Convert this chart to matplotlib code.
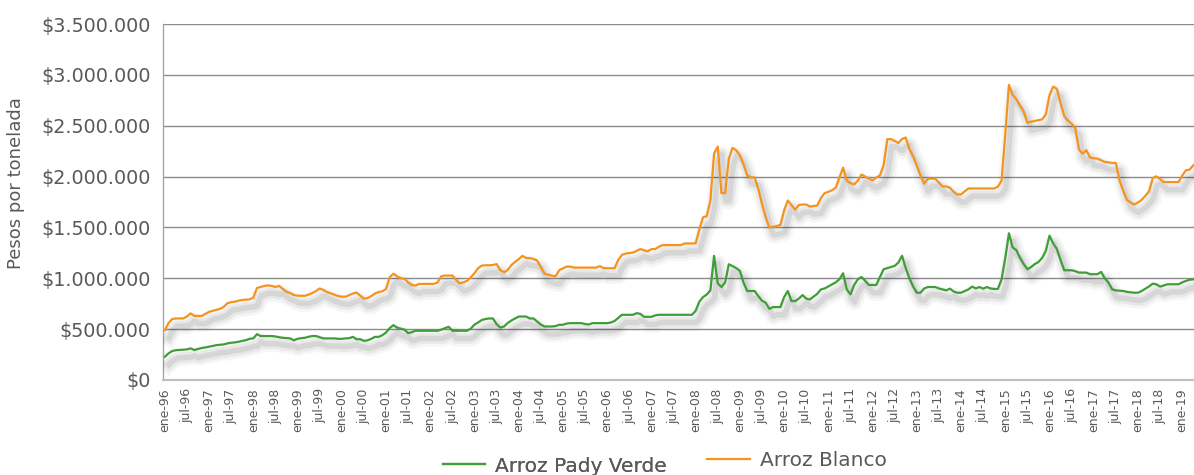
import numpy as np
import matplotlib
matplotlib.use("Agg")
import matplotlib.pyplot as plt
from matplotlib.ticker import FuncFormatter, MultipleLocator
import matplotlib.patheffects as pe
from matplotlib.lines import Line2D

# ---- data (miles de pesos por tonelada), monthly from ene-96 ----
start_year = 1996
blanco = [
    490, 560, 600, 605, 605, 605, 625, 655, 630, 630, 630, 650,          # 1996
    670, 680, 690, 700, 720, 755, 765, 770, 780, 787, 790, 793,          # 1997
    810, 905, 915, 925, 930, 925, 915, 925, 895, 868, 855, 835,          # 1998
    829, 828, 828, 840, 855, 875, 900, 885, 865, 852, 840, 825,          # 1999
    819, 819, 835, 850, 860, 830, 800, 805, 825, 850, 865, 872,          # 2000
    895, 1010, 1045, 1020, 1000, 995, 960, 935, 928, 945, 945, 945,      # 2001
    945, 945, 960, 1020, 1027, 1027, 1027, 985, 950, 960, 975, 1010,     # 2002
    1050, 1100, 1125, 1128, 1128, 1130, 1140, 1080, 1060, 1080, 1130, 1160,  # 2003
    1188, 1220, 1200, 1198, 1190, 1175, 1110, 1045, 1035, 1025, 1020, 1080,  # 2004
    1098, 1115, 1115, 1105, 1105, 1105, 1105, 1105, 1105, 1105, 1120, 1100,  # 2005
    1099, 1099, 1099, 1180, 1230, 1243, 1248, 1253, 1270, 1287, 1275, 1265,  # 2006
    1287, 1287, 1310, 1326, 1326, 1326, 1326, 1326, 1326, 1342, 1342, 1342,  # 2007
    1343, 1480, 1600, 1610, 1765, 2226, 2295, 1837, 1837, 2177, 2282, 2259,  # 2008
    2210, 2120, 2010, 1992, 1990, 1880, 1730, 1600, 1501, 1505, 1515, 1524,  # 2009
    1666, 1765, 1720, 1675, 1720, 1725, 1725, 1705, 1710, 1715, 1790, 1838,  # 2010
    1850, 1865, 1890, 1990, 2088, 1960, 1935, 1923, 1960, 2020, 2000, 1979,  # 2011
    1962, 1990, 2012, 2111, 2368, 2368, 2350, 2330, 2370, 2384, 2270, 2200,  # 2012
    2110, 2012, 1930, 1979, 1979, 1979, 1940, 1903, 1903, 1890, 1850, 1824,  # 2013
    1824, 1855, 1883, 1883, 1883, 1883, 1883, 1883, 1883, 1883, 1900, 1960,  # 2014
    2420, 2902, 2803, 2760, 2700, 2638, 2529, 2540, 2546, 2555, 2562, 2612,  # 2015
    2800, 2885, 2862, 2721, 2595, 2550, 2520, 2473, 2266, 2226, 2259, 2187,  # 2016
    2180, 2177, 2160, 2144, 2140, 2134, 2134, 1962, 1860, 1771, 1745, 1725,  # 2017
    1745, 1771, 1810, 1854, 1985, 2002, 1975, 1946, 1946, 1946, 1946, 1946,  # 2018
    2010, 2061, 2068, 2111,                                                  # 2019
]
pady_verde = [
    229, 262, 285, 293, 295, 298, 301, 311, 295, 305, 315, 320,          # 1996
    327, 335, 343, 347, 350, 360, 366, 370, 376, 385, 392, 405,          # 1997
    409, 451, 432, 432, 432, 432, 428, 420, 415, 412, 409, 390,          # 1998
    405, 412, 415, 425, 432, 432, 420, 409, 409, 409, 409, 405,          # 1999
    405, 409, 411, 424, 401, 401, 385, 390, 405, 424, 424, 440,          # 2000
    467, 510, 539, 515, 505, 495, 461, 470, 484, 484, 484, 484,          # 2001
    484, 484, 484, 495, 510, 523, 484, 484, 484, 484, 484, 505,          # 2002
    545, 566, 590, 600, 605, 605, 549, 516, 525, 560, 585, 605,          # 2003
    624, 624, 624, 605, 605, 575, 545, 526, 526, 526, 530, 543,          # 2004
    543, 555, 559, 559, 559, 559, 550, 545, 559, 559, 559, 559,          # 2005
    559, 565, 580, 610, 641, 641, 641, 641, 657, 650, 621, 621,          # 2006
    621, 635, 641, 641, 641, 641, 641, 641, 641, 641, 641, 641,          # 2007
    680, 770, 815, 840, 881, 1221, 950, 914, 960, 1138, 1120, 1100,      # 2008
    1073, 957, 875, 875, 875, 825, 780, 760, 700, 717, 717, 717,         # 2009
    815, 875, 776, 776, 800, 835, 800, 792, 820, 848, 891, 900,          # 2010
    920, 940, 960, 990, 1050, 891, 842, 934, 990, 1013, 975, 934,        # 2011
    934, 934, 1013, 1089, 1100, 1112, 1122, 1155, 1221, 1100, 1000, 920, # 2012
    858, 858, 900, 914, 914, 914, 900, 891, 881, 898, 870, 858,          # 2013
    858, 875, 891, 918, 901, 914, 898, 914, 900, 895, 895, 990,          # 2014
    1200, 1442, 1303, 1277, 1200, 1140, 1089, 1110, 1140, 1160, 1200, 1270,  # 2015
    1419, 1343, 1287, 1180, 1079, 1079, 1079, 1070, 1056, 1056, 1056, 1040,  # 2016
    1040, 1040, 1063, 1000, 957, 891, 881, 878, 875, 866, 862, 858,      # 2017
    858, 875, 898, 920, 947, 941, 918, 930, 941, 941, 941, 941,          # 2018
    960, 974, 985, 990,                                                  # 2019
]
month_abbr = ["ene", "feb", "mar", "abr", "may", "jun",
              "jul", "ago", "sep", "oct", "nov", "dic"]
series_names = ["Arroz Pady Verde", "Arroz Blanco"]
y_label = "Pesos por tonelada"

blanco = np.array(blanco) * 1000
pady_verde = np.array(pady_verde) * 1000
n = len(blanco)
x = np.arange(n)

tick_pos = list(range(0, n, 6))
tick_lab = [f"{month_abbr[m % 12]}-{(start_year + m // 12) % 100:02d}" for m in tick_pos]

GREEN = "#3f9e37"
ORANGE = "#f5931f"
TXT = "#595959"

fig = plt.figure(figsize=(11.94, 4.75), dpi=100)
ax = fig.add_axes([163 / 1194, 95 / 475, 1 - 163 / 1194, (380 - 24) / 475])

def shadow_effects():
    return [
        pe.SimpleLineShadow(offset=(3.0, -5.5), shadow_color="black", alpha=0.035, linewidth=12),
        pe.SimpleLineShadow(offset=(3.0, -5.5), shadow_color="black", alpha=0.05, linewidth=8),
        pe.SimpleLineShadow(offset=(3.0, -5.5), shadow_color="black", alpha=0.08, linewidth=4),
        pe.Normal(),
    ]

ax.plot(x, pady_verde, color=GREEN, lw=1.6, path_effects=shadow_effects(), zorder=3)
ax.plot(x, blanco, color=ORANGE, lw=1.6, path_effects=shadow_effects(), zorder=4)

ax.set_xlim(-0.5, n - 0.8)
ax.set_ylim(0, 3500000)
ax.yaxis.set_major_locator(MultipleLocator(500000))
ax.yaxis.set_major_formatter(FuncFormatter(lambda v, p: "$" + f"{v:,.0f}".replace(",", ".")))
ax.grid(axis="y", color="#8c8c8c", lw=1.0)
ax.set_axisbelow(True)

ax.set_xticks(tick_pos)
ax.set_xticklabels(tick_lab, rotation=90, fontsize=9, color=TXT)
ax.tick_params(axis="x", length=0, pad=6)
ax.tick_params(axis="y", length=0, pad=9, labelsize=13.8, labelcolor=TXT)

for s in ["top", "right"]:
    ax.spines[s].set_visible(False)
ax.spines["left"].set_color("#a6a6a6")
ax.spines["left"].set_linewidth(1.0)
ax.spines["bottom"].set_color("#bfbfbf")
ax.spines["bottom"].set_linewidth(1.5)

ax.set_ylabel(y_label, fontsize=13, color=TXT)
ax.yaxis.set_label_coords(-0.134, 0.553)

leg1 = fig.legend([Line2D([], [], color=GREEN, lw=1.6)], [series_names[0]], loc="center",
                  bbox_to_anchor=(555 / 1194, 1 - 466 / 475), frameon=False, fontsize=14.5,
                  handlelength=2.1, handletextpad=0.5, labelcolor=TXT)
leg2 = fig.legend([Line2D([], [], color=ORANGE, lw=1.6)], [series_names[1]], loc="center",
                  bbox_to_anchor=(797 / 1194, 1 - 461 / 475), frameon=False, fontsize=14.5,
                  handlelength=2.1, handletextpad=0.5, labelcolor=TXT)
fig.add_artist(leg1)

fig.savefig("out.png", dpi=100)
